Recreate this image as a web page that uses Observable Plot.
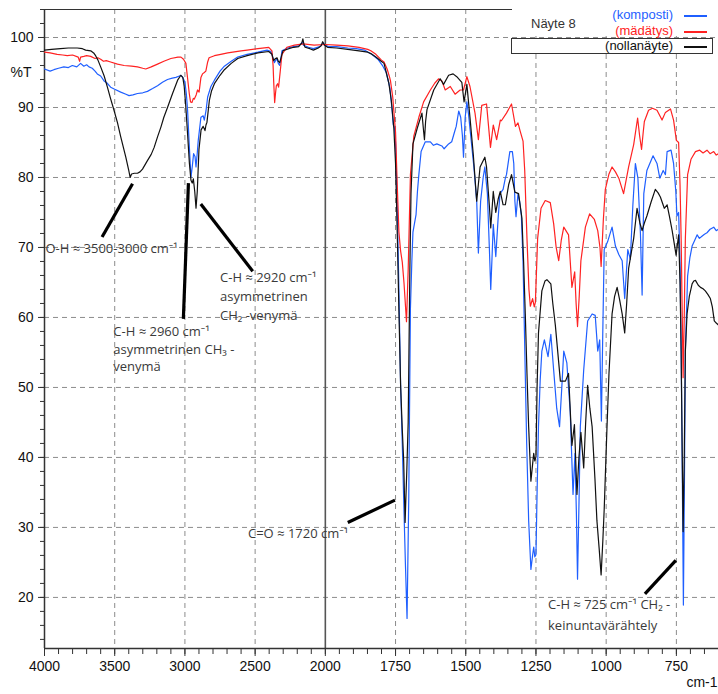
<!DOCTYPE html>
<html><head><meta charset="utf-8">
<script src="https://cdn.jsdelivr.net/npm/d3@7"></script>
<script src="https://cdn.jsdelivr.net/npm/@observablehq/plot@0.6"></script>
<style>
body{margin:0;background:#fff;}
#wrap{position:relative;width:718px;height:694px;overflow:hidden;background:#fff;}
.cover{position:absolute;left:512px;top:0;width:206px;height:36px;background:#fff;}
.lbox{position:absolute;left:511px;top:38px;width:200px;height:14px;border:1px solid #333;background:#fff;}
.lt{position:absolute;font-family:"Liberation Sans",Arial,sans-serif;font-size:13px;white-space:nowrap;line-height:14px;}
.ls{position:absolute;left:684px;width:23px;height:1.6px;}
</style></head>
<body>
<div id="wrap"></div>
<script>
// ---- data (wavenumber cm-1, %T) ----
const kompostiWn = [4000,3960,3933,3900,3862,3830,3802,3770,3743,3720,3700,3683,3660,3640,3624,3600,3576,3555,3529,3500,3457,3420,3398,3370,3338,3300,3267,3230,3195,3160,3124,3090,3064,3040,3029,3015,3000,2990,2981,2970,2957,2948,2938,2928,2921,2912,2905,2886,2870,2862,2850,2838,2815,2790,2750,2719,2670,2624,2557,2480,2415,2387,2375,2363,2352,2344,2335,2325,2315,2309,2270,2226,2190,2165,2156,2120,2085,2040,2015,2007,1990,1960,1920,1890,1861,1835,1813,1795,1783,1770,1762,1758,1754,1750,1744,1738,1732,1726,1721,1715,1709,1703,1697,1692,1688,1677,1672,1667,1659,1644,1626,1615,1603,1585,1577,1561,1550,1540,1534,1525,1518,1512,1508,1502,1496,1490,1485,1471,1461,1455,1447,1438,1432,1423,1416,1411,1406,1402,1393,1385,1378,1367,1359,1355,1343,1334,1329,1325,1321,1314,1308,1302,1296,1290,1283,1276,1268,1262,1258,1254,1250,1246,1241,1235,1229,1220,1207,1197,1187,1176,1166,1158,1151,1140,1128,1118,1111,1106,1102,1097,1092,1080,1066,1050,1039,1030,1023,1017,1012,1007,995,979,967,955,943,934,923,914,905,896,887,878,872,866,855,833,819,809,797,789,783,769,760,752,748,742,737,733,729,725,721,718,710,702,694,685,676,668,659,650,641,630,617,608,600];
const kompostiT = [95.5,95.2,95.4,95.6,95.8,95.7,96.0,95.8,96.3,95.9,96.1,95.8,95.6,95.2,94.8,94.5,93.8,93.5,92.9,92.6,92.2,91.9,91.7,91.8,92.0,92.1,92.3,92.7,93.1,93.6,94.0,94.2,94.3,94.5,94.6,94.3,93.6,92.0,89.6,85.0,80.0,81.5,83.4,83.0,81.5,83.5,85.3,88.6,88.8,88.2,89.5,91.5,93.0,93.9,95.2,95.9,96.6,97.2,97.6,97.9,98.2,98.0,97.2,96.4,96.8,96.9,96.3,96.0,97.2,98.1,98.5,98.7,98.8,99.3,98.9,98.6,98.4,98.7,99.2,99.0,98.7,98.7,98.5,98.4,98.2,97.6,96.9,95.9,95.0,92.8,89.5,87.5,87.2,85.0,76.0,64.0,50.4,42.0,34.0,25.0,17.0,34.0,61.3,68.0,72.2,74.7,78.0,80.4,83.7,85.1,85.1,84.6,84.8,84.5,84.1,84.8,85.1,86.5,87.3,89.5,88.6,86.0,82.9,88.6,90.8,89.0,87.0,81.5,76.6,69.2,76.6,80.0,81.5,77.7,70.0,64.0,69.0,73.3,68.7,74.0,77.7,78.3,79.9,80.4,83.7,83.7,82.0,76.6,74.4,77.7,76.5,74.6,68.0,55.8,42.0,31.0,24.0,26.0,27.2,25.8,26.1,35.0,44.4,51.0,55.2,56.8,54.4,57.6,52.5,47.0,44.4,50.0,55.2,53.5,46.5,34.7,40.6,32.0,22.6,33.0,44.4,52.5,59.5,60.5,60.3,55.2,56.8,45.2,58.0,69.7,70.8,72.9,70.2,69.0,68.1,62.7,69.7,68.3,76.0,82.0,79.9,72.0,63.2,77.7,81.0,83.1,82.0,79.9,81.0,80.4,83.7,83.9,82.0,78.0,74.5,75.0,68.0,55.2,38.0,18.9,38.0,55.2,65.9,68.5,70.2,71.0,71.8,71.3,71.6,71.9,72.1,72.6,72.9,72.4,72.6];

const madatysWn = [4000,3960,3910,3870,3838,3800,3760,3750,3743,3720,3700,3671,3640,3620,3600,3580,3560,3529,3480,3433,3380,3338,3300,3279,3240,3195,3150,3100,3050,3028,3010,2993,2980,2969,2960,2950,2940,2933,2920,2910,2899,2886,2875,2862,2851,2838,2828,2790,2745,2695,2600,2557,2480,2403,2380,2372,2368,2361,2355,2349,2340,2333,2321,2309,2274,2220,2156,2080,2000,1960,1920,1880,1849,1838,1820,1801,1791,1780,1771,1768,1760,1750,1744,1738,1732,1726,1720,1711,1705,1697,1685,1667,1650,1626,1610,1597,1585,1573,1555,1538,1520,1508,1496,1485,1467,1455,1443,1426,1412,1402,1390,1377,1373,1355,1337,1323,1314,1306,1296,1290,1282,1275,1270,1262,1256,1252,1244,1232,1217,1199,1187,1178,1169,1160,1151,1134,1122,1112,1107,1102,1096,1090,1074,1059,1042,1030,1022,1018,1010,1003,990,979,967,955,938,920,902,888,881,874,868,864,849,835,819,801,789,771,760,750,742,737,733,729,726,722,718,710,698,682,667,655,641,630,617,608,600];
const madatysT = [97.9,97.8,97.6,97.5,97.4,97.5,97.2,96.6,97.2,97.3,97.4,97.3,97.0,97.1,96.9,96.6,96.7,96.5,96.2,96.0,95.9,95.8,95.6,95.5,95.8,96.2,96.6,97.0,97.2,97.2,96.9,96.3,94.0,92.0,90.8,90.7,91.3,91.2,91.8,92.5,92.2,94.3,94.8,95.0,95.2,96.5,97.1,97.4,97.6,97.8,98.1,98.2,98.4,98.6,98.1,96.0,93.8,90.7,92.0,93.1,93.4,92.9,95.2,97.6,98.6,98.9,99.1,98.9,99.0,98.9,98.8,98.6,98.3,98.1,97.6,96.8,96.5,95.5,94.3,93.8,91.5,86.5,79.0,72.2,69.5,67.9,65.0,59.4,66.8,80.4,85.9,88.6,90.8,92.5,93.5,94.1,93.8,92.5,93.0,91.9,92.5,92.5,94.4,93.0,89.2,85.4,90.3,90.5,84.3,87.5,85.4,88.2,88.1,89.2,90.5,87.3,87.8,86.6,85.2,81.0,71.3,64.0,61.6,62.7,61.5,62.2,71.3,75.6,76.7,76.4,73.4,70.0,68.1,71.0,72.9,71.8,64.3,66.5,62.0,58.7,63.0,68.1,72.9,74.8,74.0,72.4,70.0,67.3,74.0,78.3,80.5,81.5,80.8,79.9,77.7,81.5,84.7,88.5,86.0,84.0,86.5,88.0,89.6,89.9,89.6,88.2,89.3,89.8,88.2,85.3,85.0,79.0,71.3,60.0,51.4,60.0,71.3,80.4,82.6,83.7,83.9,83.5,83.9,83.4,83.7,83.2,83.4];

const nollaWn = [4000,3950,3886,3830,3767,3730,3707,3671,3650,3636,3620,3600,3575,3552,3530,3505,3480,3457,3421,3400,3390,3380,3360,3338,3320,3302,3267,3240,3219,3195,3171,3150,3124,3088,3052,3029,3015,3005,2995,2981,2968,2957,2948,2940,2930,2921,2912,2900,2885,2870,2857,2850,2843,2826,2810,2790,2750,2719,2670,2624,2557,2480,2403,2380,2368,2355,2344,2335,2325,2314,2302,2260,2226,2190,2168,2160,2152,2144,2110,2085,2050,2030,2019,2005,1992,1960,1920,1880,1849,1838,1820,1801,1791,1774,1765,1756,1750,1744,1738,1732,1726,1721,1716,1710,1705,1699,1695,1688,1673,1656,1651,1647,1643,1638,1614,1591,1579,1561,1545,1532,1514,1506,1496,1485,1473,1461,1449,1432,1426,1416,1411,1402,1393,1384,1377,1367,1359,1347,1337,1325,1312,1300,1294,1288,1282,1276,1268,1262,1258,1254,1250,1246,1241,1229,1218,1211,1197,1190,1181,1163,1145,1134,1122,1113,1104,1097,1090,1080,1073,1066,1058,1050,1040,1033,1025,1018,1012,1007,997,990,979,970,961,952,943,934,927,920,902,890,880,872,864,855,840,825,815,807,793,783,775,765,751,742,737,733,729,726,722,718,712,704,694,688,682,672,664,655,647,638,629,622,615,608,600];
const nollaT = [98.2,98.3,98.4,98.5,98.5,98.4,98.2,98.1,97.8,97.4,96.8,95.8,94.5,92.9,91.3,89.6,87.8,85.8,82.9,81.0,80.0,80.5,80.6,80.6,80.8,81.2,82.4,83.3,84.3,85.8,87.2,88.6,90.0,92.0,93.9,94.6,94.3,93.0,90.5,86.2,82.0,79.6,79.2,79.8,78.0,75.6,78.0,84.0,86.8,87.3,86.7,87.5,87.9,91.0,92.4,93.4,94.6,95.4,96.3,97.0,97.4,97.8,98.0,97.6,96.7,97.0,97.1,96.6,96.4,97.2,98.1,98.4,98.6,98.7,99.2,99.8,99.0,98.6,98.4,98.2,98.5,98.8,99.4,98.9,98.6,98.5,98.3,98.1,97.9,97.7,97.2,96.6,96.3,93.5,91.0,87.0,82.0,72.2,61.0,50.4,44.0,39.5,30.7,38.0,45.0,66.8,77.7,84.8,87.0,89.2,87.0,85.4,88.0,89.7,92.5,94.1,93.3,94.6,94.8,94.4,93.6,90.8,93.3,88.6,83.2,76.6,81.5,82.9,81.5,76.0,72.8,78.0,75.0,77.0,78.0,76.1,76.1,79.0,80.4,77.9,77.7,74.2,68.0,60.5,52.0,44.4,36.6,39.0,40.6,39.5,40.1,50.0,57.8,63.8,65.2,65.4,64.8,62.0,58.9,50.9,50.9,52.0,41.7,44.7,34.7,40.0,43.6,38.5,45.0,50.3,47.0,44.4,37.0,31.0,27.0,23.2,28.0,32.6,44.4,52.0,60.5,63.0,64.3,62.5,60.5,57.8,62.0,67.0,71.3,75.6,73.5,72.4,73.5,74.5,76.5,78.3,77.8,77.2,75.6,76.1,74.5,72.4,68.9,71.8,65.0,55.2,40.0,29.4,40.0,55.2,60.5,63.0,64.8,65.2,65.3,64.6,64.3,64.1,63.8,63.3,62.7,61.5,59.5,59.2,58.9];

const seriesNames = ["(komposti)", "(mädätys)", "(nollanäyte)"];
const seriesColors = ["#1f5fff", "#ff2222", "#111111"];
const legendTitle = "Näyte 8";

const xTickValues = [4000,3500,3000,2500,2000,1750,1500,1250,1000,750];
const yTickValues = [20,30,40,50,60,70,80,90,100];

const annText = [
  "O-H ≈ 3500-3000 cm⁻¹",
  "C-H ≈ 2960 cm⁻¹", "asymmetrinen CH₃ -", "venymä",
  "C-H ≈ 2920 cm⁻¹", "asymmetrinen", "CH₂ -venymä",
  "C=O ≈ 1720 cm⁻¹",
  "C-H ≈ 725 cm⁻¹ CH₂ -", "keinuntavärähtely"
];
const annTextWn = [3993, 3510, 3510, 3510, 2750, 2750, 2750, 2551, 1207, 1207];
const annTextT  = [69.8, 57.9, 55.4, 53.0, 65.7, 63.0, 60.3, 29.1, 18.9, 16.0];
// pointer lines: [wn1, T1, wn2, T2]
const annLines = [
  [3590, 71.5, 3373, 79.1],
  [3011, 59.8, 2975, 79.2],
  [2887, 76.2, 2517, 66.6],
  [1920, 30.7, 1752, 33.9],
  [862, 20.5, 752, 25.3]
];

// ---- split wavenumber axis: 500 cm-1 per unit above 2000, 250 cm-1 per unit below ----
const u = wn => wn >= 2000 ? (4000 - wn) / 500 : 4 + (2000 - wn) / 250;
const uInv = v => v <= 4 ? 4000 - 500 * v : 2000 - 250 * (v - 4);
const WN_MIN = 600;

const toRows = (wn, t) => wn.map((w, i) => ({x: u(w), t: t[i]}));
const komposti = toRows(kompostiWn, kompostiT);
const madatys = toRows(madatysWn, madatysT);
const nolla = toRows(nollaWn, nollaT);
const texts = annText.map((s, i) => ({s, x: u(annTextWn[i]), t: annTextT[i]}));
const links = annLines.map(([a, b, c, d]) => ({x1: u(a), y1: b, x2: u(c), y2: d}));

const gridXVals = xTickValues.filter(v => v !== 2000 && v !== 4000).map(u);
const minorX = [...d3.range(4000, 2000, -100), ...d3.range(2000, 599, -50)].map(u);
const minorY = d3.range(14, 105, 2);
const Y0 = 12.7, Y1 = 104;
const grid = {stroke: "#8c8c8c", strokeOpacity: 1, strokeWidth: 1, strokeDasharray: "5,4"};
const annFont = "'Open Sans', 'Noto Sans', sans-serif";

const chart = Plot.plot({
  width: 718, height: 694,
  marginLeft: 44, marginRight: 0, marginTop: 9, marginBottom: 46,
  style: {fontFamily: "'Liberation Sans', Arial, sans-serif", fontSize: "14px", background: "#fff", color: "#111", overflow: "visible"},
  x: {domain: [0, u(WN_MIN)], axis: null, label: null},
  y: {domain: [Y0, Y1], axis: null, label: null},
  marks: [
    Plot.gridY(yTickValues, grid),
    Plot.gridX(gridXVals, grid),
    Plot.ruleX([u(2000)], {stroke: "#555", strokeWidth: 1.6}),
    Plot.ruleY([Y1], {stroke: "#333", strokeWidth: 1.2}),
    Plot.ruleX([0], {stroke: "#333", strokeWidth: 1.5}),
    Plot.ruleY([Y0], {stroke: "#333", strokeWidth: 1.5}),
    Plot.axisX(xTickValues.map(u), {tickSize: 8, tickPadding: 5, fontSize: 14, stroke: "#333", fill: "#111", label: null, tickFormat: v => String(Math.round(uInv(v)))}),
    Plot.axisX(minorX, {tickSize: 6, tickFormat: () => "", stroke: "#333", label: null}),
    Plot.axisY(yTickValues, {tickSize: 6, tickPadding: 5, fontSize: 14, stroke: "#333", fill: "#111", label: null}),
    Plot.axisY(minorY, {tickSize: 4, tickFormat: () => "", stroke: "#333", label: null}),
    Plot.line(komposti, {x: "x", y: "t", stroke: seriesColors[0], strokeWidth: 1.2}),
    Plot.line(madatys, {x: "x", y: "t", stroke: seriesColors[1], strokeWidth: 1.2}),
    Plot.line(nolla, {x: "x", y: "t", stroke: seriesColors[2], strokeWidth: 1.2}),
    Plot.link(links, {x1: "x1", y1: "y1", x2: "x2", y2: "y2", stroke: "#000", strokeWidth: 3.2}),
    Plot.text(texts, {x: "x", y: "t", text: "s", textAnchor: "start", fontFamily: annFont, fontSize: 13, fill: "#3a3a3a"}),
    Plot.text(["%T"], {x: 0, y: 95, dx: -13, textAnchor: "end", fontSize: 14, fill: "#111"}),
    Plot.text(["cm-1"], {frameAnchor: "bottom-right", dx: -1, dy: 38, textAnchor: "end", fontSize: 14, fill: "#111"})
  ]
});

const wrap = document.getElementById("wrap");
wrap.appendChild(chart);
const add = (cls, style, txt) => {
  const d = document.createElement("div");
  d.className = cls;
  Object.assign(d.style, style);
  if (txt) d.textContent = txt;
  wrap.appendChild(d);
};
add("cover", {});
add("lbox", {});
add("lt", {left: "531px", top: "17px", color: "#333"}, legendTitle);
const ly = [15, 31, 46];
seriesNames.forEach((n, i) => {
  add("lt", {right: "45px", top: (ly[i] - 7) + "px", color: seriesColors[i]}, n);
  add("ls", {top: ly[i] + "px", background: seriesColors[i]});
});
</script>
</body></html>
